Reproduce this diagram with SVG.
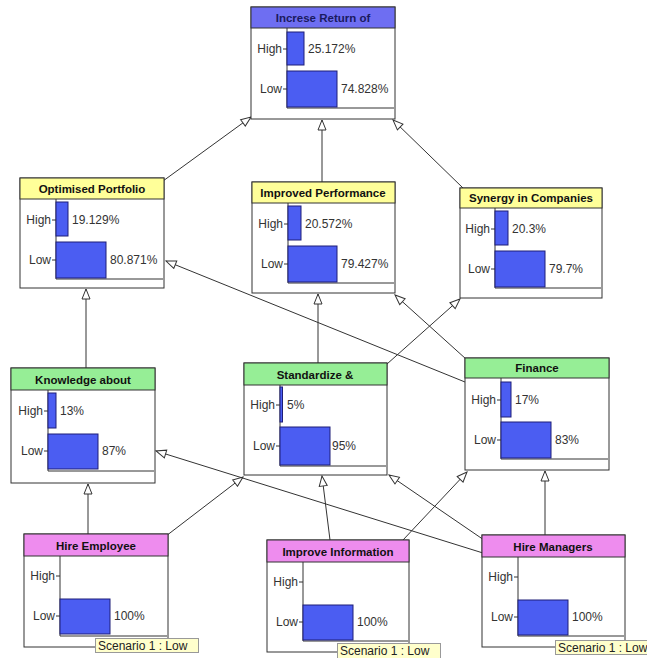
<svg xmlns="http://www.w3.org/2000/svg" width="647" height="658" viewBox="0 0 647 658">
<defs>
<style>
.box{fill:#fff;stroke:#333;stroke-width:1}
.hdr{stroke:#333;stroke-width:1}
.blue{fill:#6e6ef2}
.yel{fill:#ffff99}
.grn{fill:#96ee96}
.pnk{fill:#ee8cee}
.title{font-family:"Liberation Sans",Arial,sans-serif;font-size:11.5px;font-weight:bold;fill:#111;text-anchor:middle}
.axis{fill:none;stroke:#333;stroke-width:1}
.bar{fill:#4b5df2;stroke:#1e1e78;stroke-width:1}
.lbl{font-family:"Liberation Sans",Arial,sans-serif;font-size:12px;fill:#333;text-anchor:end}
.pct{font-family:"Liberation Sans",Arial,sans-serif;font-size:12px;fill:#333}
.tick{stroke:#333;stroke-width:1}
.edge{fill:none;stroke:#333;stroke-width:1;marker-end:url(#tri)}
.tip{fill:#ffffcc;stroke:#999;stroke-width:1}
.tipt{font-family:"Liberation Sans",Arial,sans-serif;font-size:12px;fill:#222}
</style>
<marker id="tri" viewBox="0 0 12 10" markerWidth="12" markerHeight="10" refX="11" refY="5" orient="auto" markerUnits="userSpaceOnUse">
<path d="M1,1 L11,5 L1,9 Z" fill="#fff" stroke="#333" stroke-width="1"/>
</marker>
</defs>
<rect width="647" height="658" fill="#fff"/>

<g id="connectors">
<line class="edge" x1="163" y1="181" x2="251" y2="117"/>
<line class="edge" x1="322" y1="182" x2="322" y2="120"/>
<line class="edge" x1="463" y1="188" x2="393" y2="120"/>
<line class="edge" x1="86" y1="368" x2="86" y2="289"/>
<line class="edge" x1="465" y1="382" x2="166" y2="261"/>
<line class="edge" x1="318" y1="363" x2="318" y2="294"/>
<line class="edge" x1="387" y1="364" x2="460" y2="299"/>
<line class="edge" x1="466" y1="359" x2="395" y2="295"/>
<line class="edge" x1="88" y1="534" x2="88" y2="484"/>
<line class="edge" x1="166" y1="536" x2="243" y2="477"/>
<line class="edge" x1="330" y1="540" x2="322" y2="476"/>
<line class="edge" x1="403" y1="540" x2="467" y2="472"/>
<line class="edge" x1="483" y1="553" x2="156" y2="451"/>
<line class="edge" x1="484" y1="540" x2="389" y2="475"/>
<line class="edge" x1="545" y1="535" x2="545" y2="471"/>
</g>

<g id="n-increse">
<rect class="box" x="251" y="7" width="144" height="112"/>
<rect class="hdr blue" x="251" y="7" width="144" height="21"/>
<text class="title" x="323" y="22" fill="#1a1a60" style="fill:#1a1a60">Increse Return of</text>
<path class="axis" d="M287,28 V108 H394"/>
<rect class="bar" x="287" y="32" width="17" height="33"/>
<rect class="bar" x="287" y="71" width="50" height="36"/>
<text class="lbl" x="282" y="53">High</text><line class="tick" x1="283" y1="49" x2="287" y2="49"/>
<text class="lbl" x="282" y="93">Low</text><line class="tick" x1="283" y1="89" x2="287" y2="89"/>
<text class="pct" x="308" y="53">25.172%</text>
<text class="pct" x="341" y="93">74.828%</text>
</g>

<g id="n-optimised">
<rect class="box" x="20" y="178" width="144" height="110"/>
<rect class="hdr yel" x="20" y="178" width="144" height="21"/>
<text class="title" x="92" y="193">Optimised Portfolio</text>
<path class="axis" d="M56,199 V279 H163"/>
<rect class="bar" x="56" y="202" width="12" height="34"/>
<rect class="bar" x="56" y="242" width="50" height="36"/>
<text class="lbl" x="51" y="224">High</text><line class="tick" x1="52" y1="220" x2="56" y2="220"/>
<text class="lbl" x="51" y="264">Low</text><line class="tick" x1="52" y1="260" x2="56" y2="260"/>
<text class="pct" x="72" y="224">19.129%</text>
<text class="pct" x="110" y="264">80.871%</text>
</g>

<g id="n-improved">
<rect class="box" x="252" y="182" width="143" height="111"/>
<rect class="hdr yel" x="252" y="182" width="143" height="21"/>
<text class="title" x="323" y="197">Improved Performance</text>
<path class="axis" d="M288,203 V283 H394"/>
<rect class="bar" x="288" y="206" width="13" height="34"/>
<rect class="bar" x="288" y="246" width="49" height="36"/>
<text class="lbl" x="283" y="228">High</text><line class="tick" x1="284" y1="224" x2="288" y2="224"/>
<text class="lbl" x="283" y="268">Low</text><line class="tick" x1="284" y1="264" x2="288" y2="264"/>
<text class="pct" x="305" y="228">20.572%</text>
<text class="pct" x="341" y="268">79.427%</text>
</g>

<g id="n-synergy">
<rect class="box" x="460" y="188" width="142" height="110"/>
<rect class="hdr yel" x="460" y="188" width="142" height="20"/>
<text class="title" x="531" y="202">Synergy in Companies</text>
<path class="axis" d="M495,208 V288 H601"/>
<rect class="bar" x="495" y="211" width="13" height="34"/>
<rect class="bar" x="495" y="251" width="50" height="36"/>
<text class="lbl" x="490" y="233">High</text><line class="tick" x1="491" y1="229" x2="495" y2="229"/>
<text class="lbl" x="490" y="273">Low</text><line class="tick" x1="491" y1="269" x2="495" y2="269"/>
<text class="pct" x="512" y="233">20.3%</text>
<text class="pct" x="549" y="273">79.7%</text>
</g>

<g id="n-knowledge">
<rect class="box" x="11" y="368" width="144" height="115"/>
<rect class="hdr grn" x="11" y="368" width="144" height="22"/>
<text class="title" x="83" y="384">Knowledge about</text>
<path class="axis" d="M48,390 V471 H154"/>
<rect class="bar" x="48" y="393" width="8" height="35"/>
<rect class="bar" x="48" y="434" width="50" height="35"/>
<text class="lbl" x="43" y="415">High</text><line class="tick" x1="44" y1="411" x2="48" y2="411"/>
<text class="lbl" x="43" y="455">Low</text><line class="tick" x1="44" y1="451" x2="48" y2="451"/>
<text class="pct" x="60" y="415">13%</text>
<text class="pct" x="102" y="455">87%</text>
</g>

<g id="n-standardize">
<rect class="box" x="244" y="363" width="143" height="112"/>
<rect class="hdr grn" x="244" y="363" width="143" height="22"/>
<text class="title" x="315" y="379">Standardize &amp;</text>
<path class="axis" d="M280,385 V466 H386"/>
<rect class="bar" x="280" y="387" width="2.5" height="35"/>
<rect class="bar" x="280" y="427" width="50" height="38"/>
<text class="lbl" x="275" y="409">High</text><line class="tick" x1="276" y1="405" x2="280" y2="405"/>
<text class="lbl" x="275" y="450">Low</text><line class="tick" x1="276" y1="446" x2="280" y2="446"/>
<text class="pct" x="287" y="409">5%</text>
<text class="pct" x="332" y="450">95%</text>
</g>

<g id="n-finance">
<rect class="box" x="465" y="358" width="144" height="112"/>
<rect class="hdr grn" x="465" y="358" width="144" height="20"/>
<text class="title" x="537" y="372">Finance</text>
<path class="axis" d="M501,378 V459 H608"/>
<rect class="bar" x="501" y="382" width="10" height="35"/>
<rect class="bar" x="501" y="422" width="50" height="36"/>
<text class="lbl" x="496" y="404">High</text><line class="tick" x1="497" y1="400" x2="501" y2="400"/>
<text class="lbl" x="496" y="444">Low</text><line class="tick" x1="497" y1="440" x2="501" y2="440"/>
<text class="pct" x="515" y="404">17%</text>
<text class="pct" x="555" y="444">83%</text>
</g>

<g id="n-hire-employee">
<rect class="box" x="24" y="534" width="144" height="113"/>
<rect class="hdr pnk" x="24" y="534" width="144" height="22"/>
<text class="title" x="96" y="550">Hire Employee</text>
<path class="axis" d="M60,556 V636 H167"/>
<rect class="bar" x="60" y="599" width="50" height="35"/>
<text class="lbl" x="55" y="580">High</text><line class="tick" x1="56" y1="576" x2="60" y2="576"/>
<text class="lbl" x="55" y="620">Low</text><line class="tick" x1="56" y1="616" x2="60" y2="616"/>
<text class="pct" x="114" y="620">100%</text>
<rect class="tip" x="95.5" y="638.5" width="103" height="14"/>
<text class="tipt" x="98" y="650">Scenario 1 : Low</text>
</g>

<g id="n-improve-information">
<rect class="box" x="267" y="540" width="142" height="112"/>
<rect class="hdr pnk" x="267" y="540" width="142" height="22"/>
<text class="title" x="338" y="556">Improve Information</text>
<path class="axis" d="M303,562 V641 H408"/>
<rect class="bar" x="303" y="605" width="50" height="35"/>
<text class="lbl" x="298" y="586">High</text><line class="tick" x1="299" y1="582" x2="303" y2="582"/>
<text class="lbl" x="298" y="626">Low</text><line class="tick" x1="299" y1="622" x2="303" y2="622"/>
<text class="pct" x="357" y="626">100%</text>
<rect class="tip" x="337.5" y="643.5" width="103" height="15"/>
<text class="tipt" x="340" y="655">Scenario 1 : Low</text>
</g>

<g id="n-hire-managers">
<rect class="box" x="482" y="535" width="143" height="112"/>
<rect class="hdr pnk" x="482" y="535" width="143" height="22"/>
<text class="title" x="553" y="551">Hire Managers</text>
<path class="axis" d="M518,557 V636 H624"/>
<rect class="bar" x="518" y="600" width="50" height="35"/>
<text class="lbl" x="513" y="581">High</text><line class="tick" x1="514" y1="577" x2="518" y2="577"/>
<text class="lbl" x="513" y="621">Low</text><line class="tick" x1="514" y1="617" x2="518" y2="617"/>
<text class="pct" x="572" y="621">100%</text>
<rect class="tip" x="555.5" y="640.5" width="103" height="14"/>
<text class="tipt" x="558" y="652">Scenario 1 : Low</text>
</g>
</svg>
